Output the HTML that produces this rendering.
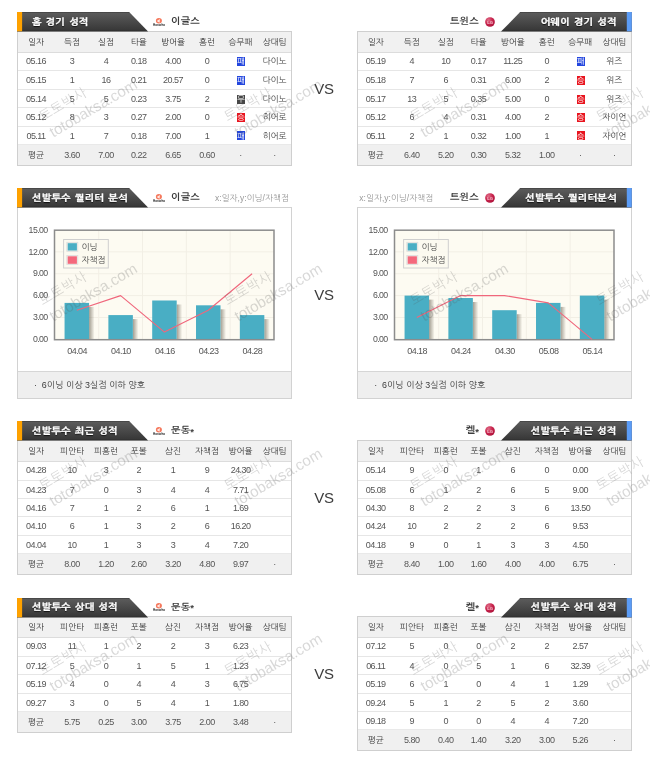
<!DOCTYPE html>
<html lang="ko"><head><meta charset="utf-8"><title>경기 분석</title>
<style>
html,body{margin:0;padding:0;background:#fff}
body{width:650px;height:776px;position:relative;overflow:hidden;font-family:"Liberation Sans","NanumGothic",sans-serif;color:#555}
div,span{box-sizing:border-box}
.abs{position:absolute}
.row{position:absolute;left:0;width:100%;border-top:1px solid #e6e6e6}
.hdr{background:#f1f1f1;border-top:1px solid #cfcfcf;border-bottom:1px solid #dcdcdc}
.avg{background:#f0f0f0;border-top:1px solid #e9e9e9}
.tbl{position:absolute;border:1px solid #cfcfcf;border-top:none;background:#fff;overflow:hidden}
.c{position:absolute;top:0;height:100%;width:44px;margin-left:-22px;text-align:center;white-space:nowrap;font-size:9px;letter-spacing:-0.55px;color:#555}
.k{font-size:8.5px;letter-spacing:0;color:#404040}
.hdr .c{color:#383838}
.title{position:absolute;z-index:4;color:#fff;font-weight:bold;font-size:9px;letter-spacing:0.2px;word-spacing:1px;white-space:nowrap;text-shadow:0 1px 1px rgba(0,0,0,.8);line-height:12px;transform:scaleX(1.12);-webkit-text-stroke:0.3px #fff}
.tl{transform-origin:0 50%}.tr{transform-origin:100% 50%}
.team{position:absolute;font-weight:bold;font-size:9px;color:#3c3c3c;white-space:nowrap;line-height:12px;letter-spacing:0.15px;transform:scaleX(1.12)}
.st{position:relative;top:1.6px;font-size:8.5px}
.sub{position:absolute;font-size:8.5px;color:#999;white-space:nowrap;line-height:12px}
.vs{position:absolute;left:304px;width:40px;text-align:center;font-size:15px;color:#3c3c3c;line-height:18px;letter-spacing:-0.3px}
.wdl{display:inline-block;width:8.2px;height:9px;vertical-align:middle;position:relative;top:-0.5px;overflow:hidden}
.wdl i{position:absolute;left:-2px;right:-2px;top:1.1px;line-height:8px;font-size:8px;font-style:normal;color:#fff;letter-spacing:0;text-align:center}
.w{background:#e8141e}.l{background:#2346de}.d{background:#474747}
.note{position:absolute;background:#efefef;border-top:1px solid #d6d6d6;font-size:8.9px;color:#3a3a3a;white-space:nowrap}
.panel{position:absolute;border:1px solid #d2d2d2;background:#fff}
.wm{position:absolute;width:0;height:0;transform:rotate(-30.5deg);color:rgba(90,90,90,.235);white-space:nowrap;pointer-events:none}
.wm span{position:absolute;display:block;transform:translate(-50%,-50%);line-height:1}
.wm .a{font-size:13.4px;top:-18px;left:-24px;letter-spacing:0.5px}
.wm .b{font-size:15.2px;top:0;left:0}
svg{position:absolute;overflow:visible}
svg text{font-family:"Liberation Sans","NanumGothic",sans-serif}
</style></head>
<body>
<svg style="left:17.099999999999998px;top:12.1px;z-index:3" width="132" height="19.6" viewBox="0 0 132 19.6"><defs><linearGradient id="gL12" x1="0" y1="0" x2="0" y2="1"><stop offset="0" stop-color="#3e3e3e"/><stop offset="0.07" stop-color="#5a5a5a"/><stop offset="0.9" stop-color="#393939"/><stop offset="1" stop-color="#2b2b2b"/></linearGradient></defs><polygon points="0,0 112.2,0 131.1,19.6 0,19.6" fill="url(#gL12)"/><rect x="0" y="0" width="5.1" height="19.3" fill="#ffa200"/></svg>
<div class="title tl" style="left:32.3px;top:15.6px">홈 경기 성적</div>
<svg style="left:152px;top:16.7px" width="14" height="10" viewBox="0 0 14 10"><ellipse cx="6.9" cy="3.7" rx="3.0" ry="2.75" fill="#f4694a" opacity=".9"/><path d="M4.7 3.9 L7.9 1.9 L7.6 5.8 Z" fill="#fff" opacity=".85"/><text x="7.1" y="8.9" font-size="3" text-anchor="middle" fill="#222" font-weight="bold" letter-spacing="0.1">Hanwha</text></svg>
<div class="team tl" style="left:170.6px;top:15.3px">이글스</div>
<div class="tbl" style="left:17.2px;top:31.0px;width:275.1px;height:135.05px">
<div class="row" style="border-top:none;top:21.00px;height:18.45px;line-height:19.05px"><span class="c" style="left:17.8px">05.16</span><span class="c" style="left:53.8px">3</span><span class="c" style="left:87.8px">4</span><span class="c" style="left:120.60000000000001px">0.18</span><span class="c" style="left:154.8px">4.00</span><span class="c" style="left:188.8px">0</span><span class="c" style="left:222.8px"><span class="wdl l"><i>패</i></span></span><span class="c k" style="left:256.3px">다이노</span></div>
<div class="row" style="top:39.45px;height:18.45px;line-height:19.05px"><span class="c" style="left:17.8px">05.15</span><span class="c" style="left:53.8px">1</span><span class="c" style="left:87.8px">16</span><span class="c" style="left:120.60000000000001px">0.21</span><span class="c" style="left:154.8px">20.57</span><span class="c" style="left:188.8px">0</span><span class="c" style="left:222.8px"><span class="wdl l"><i>패</i></span></span><span class="c k" style="left:256.3px">다이노</span></div>
<div class="row" style="top:57.90px;height:18.45px;line-height:19.05px"><span class="c" style="left:17.8px">05.14</span><span class="c" style="left:53.8px">5</span><span class="c" style="left:87.8px">5</span><span class="c" style="left:120.60000000000001px">0.23</span><span class="c" style="left:154.8px">3.75</span><span class="c" style="left:188.8px">2</span><span class="c" style="left:222.8px"><span class="wdl d"><i>무</i></span></span><span class="c k" style="left:256.3px">다이노</span></div>
<div class="row" style="top:76.35px;height:18.45px;line-height:19.05px"><span class="c" style="left:17.8px">05.12</span><span class="c" style="left:53.8px">8</span><span class="c" style="left:87.8px">3</span><span class="c" style="left:120.60000000000001px">0.27</span><span class="c" style="left:154.8px">2.00</span><span class="c" style="left:188.8px">0</span><span class="c" style="left:222.8px"><span class="wdl w"><i>승</i></span></span><span class="c k" style="left:256.3px">히어로</span></div>
<div class="row" style="top:94.80px;height:18.45px;line-height:19.05px"><span class="c" style="left:17.8px">05.11</span><span class="c" style="left:53.8px">1</span><span class="c" style="left:87.8px">7</span><span class="c" style="left:120.60000000000001px">0.18</span><span class="c" style="left:154.8px">7.00</span><span class="c" style="left:188.8px">1</span><span class="c" style="left:222.8px"><span class="wdl l"><i>패</i></span></span><span class="c k" style="left:256.3px">히어로</span></div>
<div class="row avg" style="top:113.25px;height:21px;line-height:21px"><span class="c k" style="left:17.8px">평균</span><span class="c" style="left:53.8px">3.60</span><span class="c" style="left:87.8px">7.00</span><span class="c" style="left:120.60000000000001px">0.22</span><span class="c" style="left:154.8px">6.65</span><span class="c" style="left:188.8px">0.60</span><span class="c" style="left:222.4px">·</span><span class="c" style="left:256.3px">·</span></div>
<div class="row hdr" style="top:0;height:22px;line-height:20.4px"><span class="c k" style="left:17.8px">일자</span><span class="c k" style="left:53.8px">득점</span><span class="c k" style="left:87.8px">실점</span><span class="c k" style="left:120.60000000000001px">타율</span><span class="c k" style="left:154.8px">방어율</span><span class="c k" style="left:188.8px">홈런</span><span class="c k" style="left:222.4px">승무패</span><span class="c k" style="left:256.3px">상대팀</span></div>
</div>
<svg style="left:501.1px;top:12.1px;z-index:3" width="131" height="19.6" viewBox="0 0 131 19.6"><defs><linearGradient id="gR12" x1="0" y1="0" x2="0" y2="1"><stop offset="0" stop-color="#3e3e3e"/><stop offset="0.07" stop-color="#5a5a5a"/><stop offset="0.9" stop-color="#393939"/><stop offset="1" stop-color="#2b2b2b"/></linearGradient></defs><polygon points="19.1,0 130.8,0 130.8,19.6 0,19.6" fill="url(#gR12)"/><rect x="125.8" y="0" width="5" height="19.3" fill="#5b9cf6"/></svg>
<div class="title tr" style="right:33.39999999999998px;top:15.6px">어웨이 경기 성적</div>
<div class="team tr" style="right:171.2px;top:15.3px">트윈스</div>
<svg style="left:485.3px;top:16.8px" width="10" height="10" viewBox="0 0 10 10"><defs><radialGradient id="lg21" cx="0.35" cy="0.3" r="0.8"><stop offset="0" stop-color="#e0708a"/><stop offset="0.5" stop-color="#c8234c"/><stop offset="1" stop-color="#a81038"/></radialGradient></defs><circle cx="5" cy="5" r="4.85" fill="url(#lg21)"/><text x="5.1" y="6.6" font-size="4.2" text-anchor="middle" fill="#f6c6d2" font-weight="bold">LG</text></svg>
<div class="tbl" style="left:357.4px;top:31.0px;width:275.1px;height:135.05px">
<div class="row" style="border-top:none;top:21.00px;height:18.45px;line-height:19.05px"><span class="c" style="left:17.3px">05.19</span><span class="c" style="left:53.3px">4</span><span class="c" style="left:87.3px">10</span><span class="c" style="left:120.10000000000001px">0.17</span><span class="c" style="left:154.3px">11.25</span><span class="c" style="left:188.3px">0</span><span class="c" style="left:222.3px"><span class="wdl l"><i>패</i></span></span><span class="c k" style="left:255.8px">위즈</span></div>
<div class="row" style="top:39.45px;height:18.45px;line-height:19.05px"><span class="c" style="left:17.3px">05.18</span><span class="c" style="left:53.3px">7</span><span class="c" style="left:87.3px">6</span><span class="c" style="left:120.10000000000001px">0.31</span><span class="c" style="left:154.3px">6.00</span><span class="c" style="left:188.3px">2</span><span class="c" style="left:222.3px"><span class="wdl w"><i>승</i></span></span><span class="c k" style="left:255.8px">위즈</span></div>
<div class="row" style="top:57.90px;height:18.45px;line-height:19.05px"><span class="c" style="left:17.3px">05.17</span><span class="c" style="left:53.3px">13</span><span class="c" style="left:87.3px">5</span><span class="c" style="left:120.10000000000001px">0.35</span><span class="c" style="left:154.3px">5.00</span><span class="c" style="left:188.3px">0</span><span class="c" style="left:222.3px"><span class="wdl w"><i>승</i></span></span><span class="c k" style="left:255.8px">위즈</span></div>
<div class="row" style="top:76.35px;height:18.45px;line-height:19.05px"><span class="c" style="left:17.3px">05.12</span><span class="c" style="left:53.3px">6</span><span class="c" style="left:87.3px">4</span><span class="c" style="left:120.10000000000001px">0.31</span><span class="c" style="left:154.3px">4.00</span><span class="c" style="left:188.3px">2</span><span class="c" style="left:222.3px"><span class="wdl w"><i>승</i></span></span><span class="c k" style="left:255.8px">자이언</span></div>
<div class="row" style="top:94.80px;height:18.45px;line-height:19.05px"><span class="c" style="left:17.3px">05.11</span><span class="c" style="left:53.3px">2</span><span class="c" style="left:87.3px">1</span><span class="c" style="left:120.10000000000001px">0.32</span><span class="c" style="left:154.3px">1.00</span><span class="c" style="left:188.3px">1</span><span class="c" style="left:222.3px"><span class="wdl w"><i>승</i></span></span><span class="c k" style="left:255.8px">자이언</span></div>
<div class="row avg" style="top:113.25px;height:21px;line-height:21px"><span class="c k" style="left:17.3px">평균</span><span class="c" style="left:53.3px">6.40</span><span class="c" style="left:87.3px">5.20</span><span class="c" style="left:120.10000000000001px">0.30</span><span class="c" style="left:154.3px">5.32</span><span class="c" style="left:188.3px">1.00</span><span class="c" style="left:221.9px">·</span><span class="c" style="left:255.8px">·</span></div>
<div class="row hdr" style="top:0;height:22px;line-height:20.4px"><span class="c k" style="left:17.3px">일자</span><span class="c k" style="left:53.3px">득점</span><span class="c k" style="left:87.3px">실점</span><span class="c k" style="left:120.10000000000001px">타율</span><span class="c k" style="left:154.3px">방어율</span><span class="c k" style="left:188.3px">홈런</span><span class="c k" style="left:221.9px">승무패</span><span class="c k" style="left:255.8px">상대팀</span></div>
</div>
<div class="vs" style="top:80px">VS</div>
<svg style="left:17.099999999999998px;top:188.1px;z-index:3" width="132" height="19.6" viewBox="0 0 132 19.6"><defs><linearGradient id="gL188" x1="0" y1="0" x2="0" y2="1"><stop offset="0" stop-color="#3e3e3e"/><stop offset="0.07" stop-color="#5a5a5a"/><stop offset="0.9" stop-color="#393939"/><stop offset="1" stop-color="#2b2b2b"/></linearGradient></defs><polygon points="0,0 112.2,0 131.1,19.6 0,19.6" fill="url(#gL188)"/><rect x="0" y="0" width="5.1" height="19.3" fill="#ffa200"/></svg>
<div class="title tl" style="left:31.8px;top:191.6px">선발투수 퀄리터 분석</div>
<svg style="left:152px;top:192.7px" width="14" height="10" viewBox="0 0 14 10"><ellipse cx="6.9" cy="3.7" rx="3.0" ry="2.75" fill="#f4694a" opacity=".9"/><path d="M4.7 3.9 L7.9 1.9 L7.6 5.8 Z" fill="#fff" opacity=".85"/><text x="7.1" y="8.9" font-size="3" text-anchor="middle" fill="#222" font-weight="bold" letter-spacing="0.1">Hanwha</text></svg>
<div class="team tl" style="left:170.6px;top:191.3px">이글스</div>
<div class="sub" style="left:215px;top:191.6px">x:일자,y:이닝/자책점</div>
<div class="panel" style="left:17.2px;top:207.2px;width:275.1px;height:191.60000000000002px"></div>
<svg style="left:17.2px;top:207.7px" width="275.1" height="191.60000000000002" viewBox="0 0 275.1 191.60000000000002"><defs><linearGradient id="sh" x1="0" y1="0" x2="1" y2="0"><stop offset="0" stop-color="#6b6455" stop-opacity=".62"/><stop offset="1" stop-color="#6b6455" stop-opacity="0"/></linearGradient></defs><rect x="37.900000000000006" y="21.900000000000006" width="219.1" height="109.50000000000003" fill="#fdfbf2"/><line x1="37.900000000000006" x2="257.0" y1="43.80" y2="43.80" stroke="#f2efe5" stroke-width="1"/><line x1="37.900000000000006" x2="257.0" y1="65.70" y2="65.70" stroke="#f2efe5" stroke-width="1"/><line x1="37.900000000000006" x2="257.0" y1="87.60" y2="87.60" stroke="#f2efe5" stroke-width="1"/><line x1="37.900000000000006" x2="257.0" y1="109.50" y2="109.50" stroke="#f2efe5" stroke-width="1"/><line x1="81.72" x2="81.72" y1="21.900000000000006" y2="131.40000000000003" stroke="#f2efe5" stroke-width="1"/><line x1="125.54" x2="125.54" y1="21.900000000000006" y2="131.40000000000003" stroke="#f2efe5" stroke-width="1"/><line x1="169.36" x2="169.36" y1="21.900000000000006" y2="131.40000000000003" stroke="#f2efe5" stroke-width="1"/><line x1="213.18" x2="213.18" y1="21.900000000000006" y2="131.40000000000003" stroke="#f2efe5" stroke-width="1"/><rect x="72.06" y="98.90" width="5.5" height="32.50" fill="url(#sh)"/><rect x="47.56" y="94.90" width="24.5" height="36.50" fill="#49aec4"/><rect x="115.88" y="111.09" width="5.5" height="20.31" fill="url(#sh)"/><rect x="91.38" y="107.09" width="24.5" height="24.31" fill="#49aec4"/><rect x="159.70" y="96.49" width="5.5" height="34.91" fill="url(#sh)"/><rect x="135.20" y="92.49" width="24.5" height="38.91" fill="#49aec4"/><rect x="203.52" y="101.31" width="5.5" height="30.09" fill="url(#sh)"/><rect x="179.02" y="97.31" width="24.5" height="34.09" fill="#49aec4"/><rect x="247.34" y="111.09" width="5.5" height="20.31" fill="url(#sh)"/><rect x="222.84" y="107.09" width="24.5" height="24.31" fill="#49aec4"/><rect x="37.50000000000001" y="22.200000000000006" width="219.5" height="109.50000000000003" fill="none" stroke="#8c8c8c" stroke-width="1.5"/><polyline points="59.81,102.20 103.63,87.60 147.45,124.10 191.27,102.20 235.09,65.70" fill="none" stroke="#f0677c" stroke-width="1.15" stroke-linejoin="round"/><text x="30.599999999999998" y="24.70" font-size="8.8" letter-spacing="-0.6" text-anchor="end" fill="#555">15.00</text><text x="30.599999999999998" y="46.60" font-size="8.8" letter-spacing="-0.6" text-anchor="end" fill="#555">12.00</text><text x="30.599999999999998" y="68.50" font-size="8.8" letter-spacing="-0.6" text-anchor="end" fill="#555">9.00</text><text x="30.599999999999998" y="90.40" font-size="8.8" letter-spacing="-0.6" text-anchor="end" fill="#555">6.00</text><text x="30.599999999999998" y="112.30" font-size="8.8" letter-spacing="-0.6" text-anchor="end" fill="#555">3.00</text><text x="30.599999999999998" y="134.20" font-size="8.8" letter-spacing="-0.6" text-anchor="end" fill="#555">0.00</text><text x="60.11" y="145.90" font-size="9" letter-spacing="-0.55" text-anchor="middle" fill="#555">04.04</text><text x="103.93" y="145.90" font-size="9" letter-spacing="-0.55" text-anchor="middle" fill="#555">04.10</text><text x="147.75" y="145.90" font-size="9" letter-spacing="-0.55" text-anchor="middle" fill="#555">04.16</text><text x="191.57" y="145.90" font-size="9" letter-spacing="-0.55" text-anchor="middle" fill="#555">04.23</text><text x="235.39" y="145.90" font-size="9" letter-spacing="-0.55" text-anchor="middle" fill="#555">04.28</text><rect x="46.599999999999994" y="31.5" width="44.7" height="28.5" fill="#fbf9f0" fill-opacity=".85" stroke="#cfcfcf" stroke-width="1"/><rect x="49.8" y="34.3" width="11" height="9" fill="#f4f2ea" stroke="#dcdcdc" stroke-width=".8"/><rect x="49.8" y="47.5" width="11" height="9" fill="#f4f2ea" stroke="#dcdcdc" stroke-width=".8"/><rect x="50.699999999999996" y="35.2" width="9.2" height="7.3" fill="#49aec4"/><rect x="50.699999999999996" y="48.3" width="9.2" height="7.5" fill="#f4687c"/><text x="64.6" y="41.9" font-size="8.5" fill="#444">이닝</text><text x="64.6" y="55.1" font-size="8.5" fill="#444">자책점</text></svg>
<div class="note" style="left:18.2px;top:371.2px;width:273.1px;height:27px;line-height:27.6px;padding-left:15.8px">·&nbsp;&nbsp;6이닝 이상 3실점 이하 양호</div>
<svg style="left:501.1px;top:188.1px;z-index:3" width="131" height="19.6" viewBox="0 0 131 19.6"><defs><linearGradient id="gR188" x1="0" y1="0" x2="0" y2="1"><stop offset="0" stop-color="#3e3e3e"/><stop offset="0.07" stop-color="#5a5a5a"/><stop offset="0.9" stop-color="#393939"/><stop offset="1" stop-color="#2b2b2b"/></linearGradient></defs><polygon points="19.1,0 130.8,0 130.8,19.6 0,19.6" fill="url(#gR188)"/><rect x="125.8" y="0" width="5" height="19.3" fill="#5b9cf6"/></svg>
<div class="title tr" style="right:33.5px;top:191.6px">선발투수 퀄리터분석</div>
<div class="sub" style="left:359.3px;top:191.6px">x:일자,y:이닝/자책점</div>
<div class="team tr" style="right:171.2px;top:191.3px">트윈스</div>
<svg style="left:485.3px;top:192.8px" width="10" height="10" viewBox="0 0 10 10"><defs><radialGradient id="lg197" cx="0.35" cy="0.3" r="0.8"><stop offset="0" stop-color="#e0708a"/><stop offset="0.5" stop-color="#c8234c"/><stop offset="1" stop-color="#a81038"/></radialGradient></defs><circle cx="5" cy="5" r="4.85" fill="url(#lg197)"/><text x="5.1" y="6.6" font-size="4.2" text-anchor="middle" fill="#f6c6d2" font-weight="bold">LG</text></svg>
<div class="panel" style="left:357.4px;top:207.2px;width:275.1px;height:191.60000000000002px"></div>
<svg style="left:357.4px;top:207.7px" width="275.1" height="191.60000000000002" viewBox="0 0 275.1 191.60000000000002"><defs><linearGradient id="sh" x1="0" y1="0" x2="1" y2="0"><stop offset="0" stop-color="#6b6455" stop-opacity=".62"/><stop offset="1" stop-color="#6b6455" stop-opacity="0"/></linearGradient></defs><rect x="37.900000000000006" y="21.900000000000006" width="219.1" height="109.50000000000003" fill="#fdfbf2"/><line x1="37.900000000000006" x2="257.0" y1="43.80" y2="43.80" stroke="#f2efe5" stroke-width="1"/><line x1="37.900000000000006" x2="257.0" y1="65.70" y2="65.70" stroke="#f2efe5" stroke-width="1"/><line x1="37.900000000000006" x2="257.0" y1="87.60" y2="87.60" stroke="#f2efe5" stroke-width="1"/><line x1="37.900000000000006" x2="257.0" y1="109.50" y2="109.50" stroke="#f2efe5" stroke-width="1"/><line x1="81.72" x2="81.72" y1="21.900000000000006" y2="131.40000000000003" stroke="#f2efe5" stroke-width="1"/><line x1="125.54" x2="125.54" y1="21.900000000000006" y2="131.40000000000003" stroke="#f2efe5" stroke-width="1"/><line x1="169.36" x2="169.36" y1="21.900000000000006" y2="131.40000000000003" stroke="#f2efe5" stroke-width="1"/><line x1="213.18" x2="213.18" y1="21.900000000000006" y2="131.40000000000003" stroke="#f2efe5" stroke-width="1"/><rect x="72.06" y="91.60" width="5.5" height="39.80" fill="url(#sh)"/><rect x="47.56" y="87.60" width="24.5" height="43.80" fill="#49aec4"/><rect x="115.88" y="94.01" width="5.5" height="37.39" fill="url(#sh)"/><rect x="91.38" y="90.01" width="24.5" height="41.39" fill="#49aec4"/><rect x="159.70" y="106.20" width="5.5" height="25.20" fill="url(#sh)"/><rect x="135.20" y="102.20" width="24.5" height="29.20" fill="#49aec4"/><rect x="203.52" y="98.90" width="5.5" height="32.50" fill="url(#sh)"/><rect x="179.02" y="94.90" width="24.5" height="36.50" fill="#49aec4"/><rect x="247.34" y="91.60" width="5.5" height="39.80" fill="url(#sh)"/><rect x="222.84" y="87.60" width="24.5" height="43.80" fill="#49aec4"/><rect x="37.50000000000001" y="22.200000000000006" width="219.5" height="109.50000000000003" fill="none" stroke="#8c8c8c" stroke-width="1.5"/><polyline points="59.81,109.50 103.63,87.60 147.45,87.60 191.27,94.90 235.09,131.40" fill="none" stroke="#f0677c" stroke-width="1.15" stroke-linejoin="round"/><text x="30.599999999999998" y="24.70" font-size="8.8" letter-spacing="-0.6" text-anchor="end" fill="#555">15.00</text><text x="30.599999999999998" y="46.60" font-size="8.8" letter-spacing="-0.6" text-anchor="end" fill="#555">12.00</text><text x="30.599999999999998" y="68.50" font-size="8.8" letter-spacing="-0.6" text-anchor="end" fill="#555">9.00</text><text x="30.599999999999998" y="90.40" font-size="8.8" letter-spacing="-0.6" text-anchor="end" fill="#555">6.00</text><text x="30.599999999999998" y="112.30" font-size="8.8" letter-spacing="-0.6" text-anchor="end" fill="#555">3.00</text><text x="30.599999999999998" y="134.20" font-size="8.8" letter-spacing="-0.6" text-anchor="end" fill="#555">0.00</text><text x="60.11" y="145.90" font-size="9" letter-spacing="-0.55" text-anchor="middle" fill="#555">04.18</text><text x="103.93" y="145.90" font-size="9" letter-spacing="-0.55" text-anchor="middle" fill="#555">04.24</text><text x="147.75" y="145.90" font-size="9" letter-spacing="-0.55" text-anchor="middle" fill="#555">04.30</text><text x="191.57" y="145.90" font-size="9" letter-spacing="-0.55" text-anchor="middle" fill="#555">05.08</text><text x="235.39" y="145.90" font-size="9" letter-spacing="-0.55" text-anchor="middle" fill="#555">05.14</text><rect x="46.599999999999994" y="31.5" width="44.7" height="28.5" fill="#fbf9f0" fill-opacity=".85" stroke="#cfcfcf" stroke-width="1"/><rect x="49.8" y="34.3" width="11" height="9" fill="#f4f2ea" stroke="#dcdcdc" stroke-width=".8"/><rect x="49.8" y="47.5" width="11" height="9" fill="#f4f2ea" stroke="#dcdcdc" stroke-width=".8"/><rect x="50.699999999999996" y="35.2" width="9.2" height="7.3" fill="#49aec4"/><rect x="50.699999999999996" y="48.3" width="9.2" height="7.5" fill="#f4687c"/><text x="64.6" y="41.9" font-size="8.5" fill="#444">이닝</text><text x="64.6" y="55.1" font-size="8.5" fill="#444">자책점</text></svg>
<div class="note" style="left:358.4px;top:371.2px;width:273.1px;height:27px;line-height:27.6px;padding-left:15.8px">·&nbsp;&nbsp;6이닝 이상 3실점 이하 양호</div>
<div class="vs" style="top:286px">VS</div>
<svg style="left:17.099999999999998px;top:421.2px;z-index:3" width="132" height="19.6" viewBox="0 0 132 19.6"><defs><linearGradient id="gL421" x1="0" y1="0" x2="0" y2="1"><stop offset="0" stop-color="#3e3e3e"/><stop offset="0.07" stop-color="#5a5a5a"/><stop offset="0.9" stop-color="#393939"/><stop offset="1" stop-color="#2b2b2b"/></linearGradient></defs><polygon points="0,0 112.2,0 131.1,19.6 0,19.6" fill="url(#gL421)"/><rect x="0" y="0" width="5.1" height="19.3" fill="#ffa200"/></svg>
<div class="title tl" style="left:31.8px;top:424.7px">선발투수 최근 성적</div>
<svg style="left:152px;top:425.8px" width="14" height="10" viewBox="0 0 14 10"><ellipse cx="6.9" cy="3.7" rx="3.0" ry="2.75" fill="#f4694a" opacity=".9"/><path d="M4.7 3.9 L7.9 1.9 L7.6 5.8 Z" fill="#fff" opacity=".85"/><text x="7.1" y="8.9" font-size="3" text-anchor="middle" fill="#222" font-weight="bold" letter-spacing="0.1">Hanwha</text></svg>
<div class="team tl" style="left:170.6px;top:424.4px">문동<span class="st">*</span></div>
<div class="tbl" style="left:17.2px;top:440.1px;width:275.1px;height:135.05px">
<div class="row" style="border-top:none;top:21.00px;height:18.45px;line-height:19.05px"><span class="c" style="left:17.8px">04.28</span><span class="c" style="left:53.8px">10</span><span class="c" style="left:87.8px">3</span><span class="c" style="left:120.60000000000001px">2</span><span class="c" style="left:154.8px">1</span><span class="c" style="left:188.8px">9</span><span class="c" style="left:222.4px">24.30</span></div>
<div class="row" style="top:39.45px;height:18.45px;line-height:19.05px"><span class="c" style="left:17.8px">04.23</span><span class="c" style="left:53.8px">7</span><span class="c" style="left:87.8px">0</span><span class="c" style="left:120.60000000000001px">3</span><span class="c" style="left:154.8px">4</span><span class="c" style="left:188.8px">4</span><span class="c" style="left:222.4px">7.71</span></div>
<div class="row" style="top:57.90px;height:18.45px;line-height:19.05px"><span class="c" style="left:17.8px">04.16</span><span class="c" style="left:53.8px">7</span><span class="c" style="left:87.8px">1</span><span class="c" style="left:120.60000000000001px">2</span><span class="c" style="left:154.8px">6</span><span class="c" style="left:188.8px">1</span><span class="c" style="left:222.4px">1.69</span></div>
<div class="row" style="top:76.35px;height:18.45px;line-height:19.05px"><span class="c" style="left:17.8px">04.10</span><span class="c" style="left:53.8px">6</span><span class="c" style="left:87.8px">1</span><span class="c" style="left:120.60000000000001px">3</span><span class="c" style="left:154.8px">2</span><span class="c" style="left:188.8px">6</span><span class="c" style="left:222.4px">16.20</span></div>
<div class="row" style="top:94.80px;height:18.45px;line-height:19.05px"><span class="c" style="left:17.8px">04.04</span><span class="c" style="left:53.8px">10</span><span class="c" style="left:87.8px">1</span><span class="c" style="left:120.60000000000001px">3</span><span class="c" style="left:154.8px">3</span><span class="c" style="left:188.8px">4</span><span class="c" style="left:222.4px">7.20</span></div>
<div class="row avg" style="top:113.25px;height:21px;line-height:21px"><span class="c k" style="left:17.8px">평균</span><span class="c" style="left:53.8px">8.00</span><span class="c" style="left:87.8px">1.20</span><span class="c" style="left:120.60000000000001px">2.60</span><span class="c" style="left:154.8px">3.20</span><span class="c" style="left:188.8px">4.80</span><span class="c" style="left:222.4px">9.97</span><span class="c" style="left:256.3px">·</span></div>
<div class="row hdr" style="top:0;height:22px;line-height:20.4px"><span class="c k" style="left:17.8px">일자</span><span class="c k" style="left:53.8px">피안타</span><span class="c k" style="left:87.8px">피홈런</span><span class="c k" style="left:120.60000000000001px">포볼</span><span class="c k" style="left:154.8px">삼진</span><span class="c k" style="left:188.8px">자책점</span><span class="c k" style="left:222.4px">방어율</span><span class="c k" style="left:256.3px">상대팀</span></div>
</div>
<svg style="left:501.1px;top:421.2px;z-index:3" width="131" height="19.6" viewBox="0 0 131 19.6"><defs><linearGradient id="gR421" x1="0" y1="0" x2="0" y2="1"><stop offset="0" stop-color="#3e3e3e"/><stop offset="0.07" stop-color="#5a5a5a"/><stop offset="0.9" stop-color="#393939"/><stop offset="1" stop-color="#2b2b2b"/></linearGradient></defs><polygon points="19.1,0 130.8,0 130.8,19.6 0,19.6" fill="url(#gR421)"/><rect x="125.8" y="0" width="5" height="19.3" fill="#5b9cf6"/></svg>
<div class="title tr" style="right:33.5px;top:424.7px">선발투수 최근 성적</div>
<div class="team tr" style="right:171.2px;top:424.4px">켈<span class="st">*</span></div>
<svg style="left:485.4px;top:426.1px" width="10" height="10" viewBox="0 0 10 10"><defs><radialGradient id="lg431" cx="0.35" cy="0.3" r="0.8"><stop offset="0" stop-color="#e0708a"/><stop offset="0.5" stop-color="#c8234c"/><stop offset="1" stop-color="#a81038"/></radialGradient></defs><circle cx="5" cy="5" r="4.85" fill="url(#lg431)"/><text x="5.1" y="6.6" font-size="4.2" text-anchor="middle" fill="#f6c6d2" font-weight="bold">LG</text></svg>
<div class="tbl" style="left:357.4px;top:440.1px;width:275.1px;height:135.05px">
<div class="row" style="border-top:none;top:21.00px;height:18.45px;line-height:19.05px"><span class="c" style="left:17.3px">05.14</span><span class="c" style="left:53.3px">9</span><span class="c" style="left:87.3px">0</span><span class="c" style="left:120.10000000000001px">1</span><span class="c" style="left:154.3px">6</span><span class="c" style="left:188.3px">0</span><span class="c" style="left:221.9px">0.00</span></div>
<div class="row" style="top:39.45px;height:18.45px;line-height:19.05px"><span class="c" style="left:17.3px">05.08</span><span class="c" style="left:53.3px">6</span><span class="c" style="left:87.3px">1</span><span class="c" style="left:120.10000000000001px">2</span><span class="c" style="left:154.3px">6</span><span class="c" style="left:188.3px">5</span><span class="c" style="left:221.9px">9.00</span></div>
<div class="row" style="top:57.90px;height:18.45px;line-height:19.05px"><span class="c" style="left:17.3px">04.30</span><span class="c" style="left:53.3px">8</span><span class="c" style="left:87.3px">2</span><span class="c" style="left:120.10000000000001px">2</span><span class="c" style="left:154.3px">3</span><span class="c" style="left:188.3px">6</span><span class="c" style="left:221.9px">13.50</span></div>
<div class="row" style="top:76.35px;height:18.45px;line-height:19.05px"><span class="c" style="left:17.3px">04.24</span><span class="c" style="left:53.3px">10</span><span class="c" style="left:87.3px">2</span><span class="c" style="left:120.10000000000001px">2</span><span class="c" style="left:154.3px">2</span><span class="c" style="left:188.3px">6</span><span class="c" style="left:221.9px">9.53</span></div>
<div class="row" style="top:94.80px;height:18.45px;line-height:19.05px"><span class="c" style="left:17.3px">04.18</span><span class="c" style="left:53.3px">9</span><span class="c" style="left:87.3px">0</span><span class="c" style="left:120.10000000000001px">1</span><span class="c" style="left:154.3px">3</span><span class="c" style="left:188.3px">3</span><span class="c" style="left:221.9px">4.50</span></div>
<div class="row avg" style="top:113.25px;height:21px;line-height:21px"><span class="c k" style="left:17.3px">평균</span><span class="c" style="left:53.3px">8.40</span><span class="c" style="left:87.3px">1.00</span><span class="c" style="left:120.10000000000001px">1.60</span><span class="c" style="left:154.3px">4.00</span><span class="c" style="left:188.3px">4.00</span><span class="c" style="left:221.9px">6.75</span><span class="c" style="left:255.8px">·</span></div>
<div class="row hdr" style="top:0;height:22px;line-height:20.4px"><span class="c k" style="left:17.3px">일자</span><span class="c k" style="left:53.3px">피안타</span><span class="c k" style="left:87.3px">피홈런</span><span class="c k" style="left:120.10000000000001px">포볼</span><span class="c k" style="left:154.3px">삼진</span><span class="c k" style="left:188.3px">자책점</span><span class="c k" style="left:221.9px">방어율</span><span class="c k" style="left:255.8px">상대팀</span></div>
</div>
<div class="vs" style="top:489px">VS</div>
<svg style="left:17.099999999999998px;top:597.6px;z-index:3" width="132" height="19.6" viewBox="0 0 132 19.6"><defs><linearGradient id="gL597" x1="0" y1="0" x2="0" y2="1"><stop offset="0" stop-color="#3e3e3e"/><stop offset="0.07" stop-color="#5a5a5a"/><stop offset="0.9" stop-color="#393939"/><stop offset="1" stop-color="#2b2b2b"/></linearGradient></defs><polygon points="0,0 112.2,0 131.1,19.6 0,19.6" fill="url(#gL597)"/><rect x="0" y="0" width="5.1" height="19.3" fill="#ffa200"/></svg>
<div class="title tl" style="left:31.8px;top:601.1px">선발투수 상대 성적</div>
<svg style="left:152px;top:602.2px" width="14" height="10" viewBox="0 0 14 10"><ellipse cx="6.9" cy="3.7" rx="3.0" ry="2.75" fill="#f4694a" opacity=".9"/><path d="M4.7 3.9 L7.9 1.9 L7.6 5.8 Z" fill="#fff" opacity=".85"/><text x="7.1" y="8.9" font-size="3" text-anchor="middle" fill="#222" font-weight="bold" letter-spacing="0.1">Hanwha</text></svg>
<div class="team tl" style="left:170.6px;top:600.8px">문동<span class="st">*</span></div>
<div class="tbl" style="left:17.2px;top:616.2px;width:275.1px;height:116.60px">
<div class="row" style="border-top:none;top:21.00px;height:18.45px;line-height:19.05px"><span class="c" style="left:17.8px">09.03</span><span class="c" style="left:53.8px">11</span><span class="c" style="left:87.8px">1</span><span class="c" style="left:120.60000000000001px">2</span><span class="c" style="left:154.8px">2</span><span class="c" style="left:188.8px">3</span><span class="c" style="left:222.4px">6.23</span></div>
<div class="row" style="top:39.45px;height:18.45px;line-height:19.05px"><span class="c" style="left:17.8px">07.12</span><span class="c" style="left:53.8px">5</span><span class="c" style="left:87.8px">0</span><span class="c" style="left:120.60000000000001px">1</span><span class="c" style="left:154.8px">5</span><span class="c" style="left:188.8px">1</span><span class="c" style="left:222.4px">1.23</span></div>
<div class="row" style="top:57.90px;height:18.45px;line-height:19.05px"><span class="c" style="left:17.8px">05.19</span><span class="c" style="left:53.8px">4</span><span class="c" style="left:87.8px">0</span><span class="c" style="left:120.60000000000001px">4</span><span class="c" style="left:154.8px">4</span><span class="c" style="left:188.8px">3</span><span class="c" style="left:222.4px">6.75</span></div>
<div class="row" style="top:76.35px;height:18.45px;line-height:19.05px"><span class="c" style="left:17.8px">09.27</span><span class="c" style="left:53.8px">3</span><span class="c" style="left:87.8px">0</span><span class="c" style="left:120.60000000000001px">5</span><span class="c" style="left:154.8px">4</span><span class="c" style="left:188.8px">1</span><span class="c" style="left:222.4px">1.80</span></div>
<div class="row avg" style="top:94.80px;height:21px;line-height:21px"><span class="c k" style="left:17.8px">평균</span><span class="c" style="left:53.8px">5.75</span><span class="c" style="left:87.8px">0.25</span><span class="c" style="left:120.60000000000001px">3.00</span><span class="c" style="left:154.8px">3.75</span><span class="c" style="left:188.8px">2.00</span><span class="c" style="left:222.4px">3.48</span><span class="c" style="left:256.3px">·</span></div>
<div class="row hdr" style="top:0;height:22px;line-height:20.4px"><span class="c k" style="left:17.8px">일자</span><span class="c k" style="left:53.8px">피안타</span><span class="c k" style="left:87.8px">피홈런</span><span class="c k" style="left:120.60000000000001px">포볼</span><span class="c k" style="left:154.8px">삼진</span><span class="c k" style="left:188.8px">자책점</span><span class="c k" style="left:222.4px">방어율</span><span class="c k" style="left:256.3px">상대팀</span></div>
</div>
<svg style="left:501.1px;top:597.6px;z-index:3" width="131" height="19.6" viewBox="0 0 131 19.6"><defs><linearGradient id="gR597" x1="0" y1="0" x2="0" y2="1"><stop offset="0" stop-color="#3e3e3e"/><stop offset="0.07" stop-color="#5a5a5a"/><stop offset="0.9" stop-color="#393939"/><stop offset="1" stop-color="#2b2b2b"/></linearGradient></defs><polygon points="19.1,0 130.8,0 130.8,19.6 0,19.6" fill="url(#gR597)"/><rect x="125.8" y="0" width="5" height="19.3" fill="#5b9cf6"/></svg>
<div class="title tr" style="right:33.5px;top:601.1px">선발투수 상대 성적</div>
<div class="team tr" style="right:171.2px;top:600.8px">켈<span class="st">*</span></div>
<svg style="left:485.4px;top:602.5px" width="10" height="10" viewBox="0 0 10 10"><defs><radialGradient id="lg607" cx="0.35" cy="0.3" r="0.8"><stop offset="0" stop-color="#e0708a"/><stop offset="0.5" stop-color="#c8234c"/><stop offset="1" stop-color="#a81038"/></radialGradient></defs><circle cx="5" cy="5" r="4.85" fill="url(#lg607)"/><text x="5.1" y="6.6" font-size="4.2" text-anchor="middle" fill="#f6c6d2" font-weight="bold">LG</text></svg>
<div class="tbl" style="left:357.4px;top:616.2px;width:275.1px;height:135.05px">
<div class="row" style="border-top:none;top:21.00px;height:18.45px;line-height:19.05px"><span class="c" style="left:17.3px">07.12</span><span class="c" style="left:53.3px">5</span><span class="c" style="left:87.3px">0</span><span class="c" style="left:120.10000000000001px">0</span><span class="c" style="left:154.3px">2</span><span class="c" style="left:188.3px">2</span><span class="c" style="left:221.9px">2.57</span></div>
<div class="row" style="top:39.45px;height:18.45px;line-height:19.05px"><span class="c" style="left:17.3px">06.11</span><span class="c" style="left:53.3px">4</span><span class="c" style="left:87.3px">0</span><span class="c" style="left:120.10000000000001px">5</span><span class="c" style="left:154.3px">1</span><span class="c" style="left:188.3px">6</span><span class="c" style="left:221.9px">32.39</span></div>
<div class="row" style="top:57.90px;height:18.45px;line-height:19.05px"><span class="c" style="left:17.3px">05.19</span><span class="c" style="left:53.3px">6</span><span class="c" style="left:87.3px">1</span><span class="c" style="left:120.10000000000001px">0</span><span class="c" style="left:154.3px">4</span><span class="c" style="left:188.3px">1</span><span class="c" style="left:221.9px">1.29</span></div>
<div class="row" style="top:76.35px;height:18.45px;line-height:19.05px"><span class="c" style="left:17.3px">09.24</span><span class="c" style="left:53.3px">5</span><span class="c" style="left:87.3px">1</span><span class="c" style="left:120.10000000000001px">2</span><span class="c" style="left:154.3px">5</span><span class="c" style="left:188.3px">2</span><span class="c" style="left:221.9px">3.60</span></div>
<div class="row" style="top:94.80px;height:18.45px;line-height:19.05px"><span class="c" style="left:17.3px">09.18</span><span class="c" style="left:53.3px">9</span><span class="c" style="left:87.3px">0</span><span class="c" style="left:120.10000000000001px">0</span><span class="c" style="left:154.3px">4</span><span class="c" style="left:188.3px">4</span><span class="c" style="left:221.9px">7.20</span></div>
<div class="row avg" style="top:113.25px;height:21px;line-height:21px"><span class="c k" style="left:17.3px">평균</span><span class="c" style="left:53.3px">5.80</span><span class="c" style="left:87.3px">0.40</span><span class="c" style="left:120.10000000000001px">1.40</span><span class="c" style="left:154.3px">3.20</span><span class="c" style="left:188.3px">3.00</span><span class="c" style="left:221.9px">5.26</span><span class="c" style="left:255.8px">·</span></div>
<div class="row hdr" style="top:0;height:22px;line-height:20.4px"><span class="c k" style="left:17.3px">일자</span><span class="c k" style="left:53.3px">피안타</span><span class="c k" style="left:87.3px">피홈런</span><span class="c k" style="left:120.10000000000001px">포볼</span><span class="c k" style="left:154.3px">삼진</span><span class="c k" style="left:188.3px">자책점</span><span class="c k" style="left:221.9px">방어율</span><span class="c k" style="left:255.8px">상대팀</span></div>
</div>
<div class="vs" style="top:665px">VS</div>
<div class="wm" style="left:92.5px;top:107.5px"><span class="a">토토박사</span><span class="b">totobaksa.com</span></div>
<div class="wm" style="left:278.2px;top:107.5px"><span class="a">토토박사</span><span class="b">totobaksa.com</span></div>
<div class="wm" style="left:463.9px;top:107.5px"><span class="a">토토박사</span><span class="b">totobaksa.com</span></div>
<div class="wm" style="left:649.5999999999999px;top:107.5px"><span class="a">토토박사</span><span class="b">totobaksa.com</span></div>
<div class="wm" style="left:92.5px;top:292.2px"><span class="a">토토박사</span><span class="b">totobaksa.com</span></div>
<div class="wm" style="left:278.2px;top:292.2px"><span class="a">토토박사</span><span class="b">totobaksa.com</span></div>
<div class="wm" style="left:463.9px;top:292.2px"><span class="a">토토박사</span><span class="b">totobaksa.com</span></div>
<div class="wm" style="left:649.5999999999999px;top:292.2px"><span class="a">토토박사</span><span class="b">totobaksa.com</span></div>
<div class="wm" style="left:92.5px;top:476.9px"><span class="a">토토박사</span><span class="b">totobaksa.com</span></div>
<div class="wm" style="left:278.2px;top:476.9px"><span class="a">토토박사</span><span class="b">totobaksa.com</span></div>
<div class="wm" style="left:463.9px;top:476.9px"><span class="a">토토박사</span><span class="b">totobaksa.com</span></div>
<div class="wm" style="left:649.5999999999999px;top:476.9px"><span class="a">토토박사</span><span class="b">totobaksa.com</span></div>
<div class="wm" style="left:92.5px;top:661.5999999999999px"><span class="a">토토박사</span><span class="b">totobaksa.com</span></div>
<div class="wm" style="left:278.2px;top:661.5999999999999px"><span class="a">토토박사</span><span class="b">totobaksa.com</span></div>
<div class="wm" style="left:463.9px;top:661.5999999999999px"><span class="a">토토박사</span><span class="b">totobaksa.com</span></div>
<div class="wm" style="left:649.5999999999999px;top:661.5999999999999px"><span class="a">토토박사</span><span class="b">totobaksa.com</span></div>
</body></html>
